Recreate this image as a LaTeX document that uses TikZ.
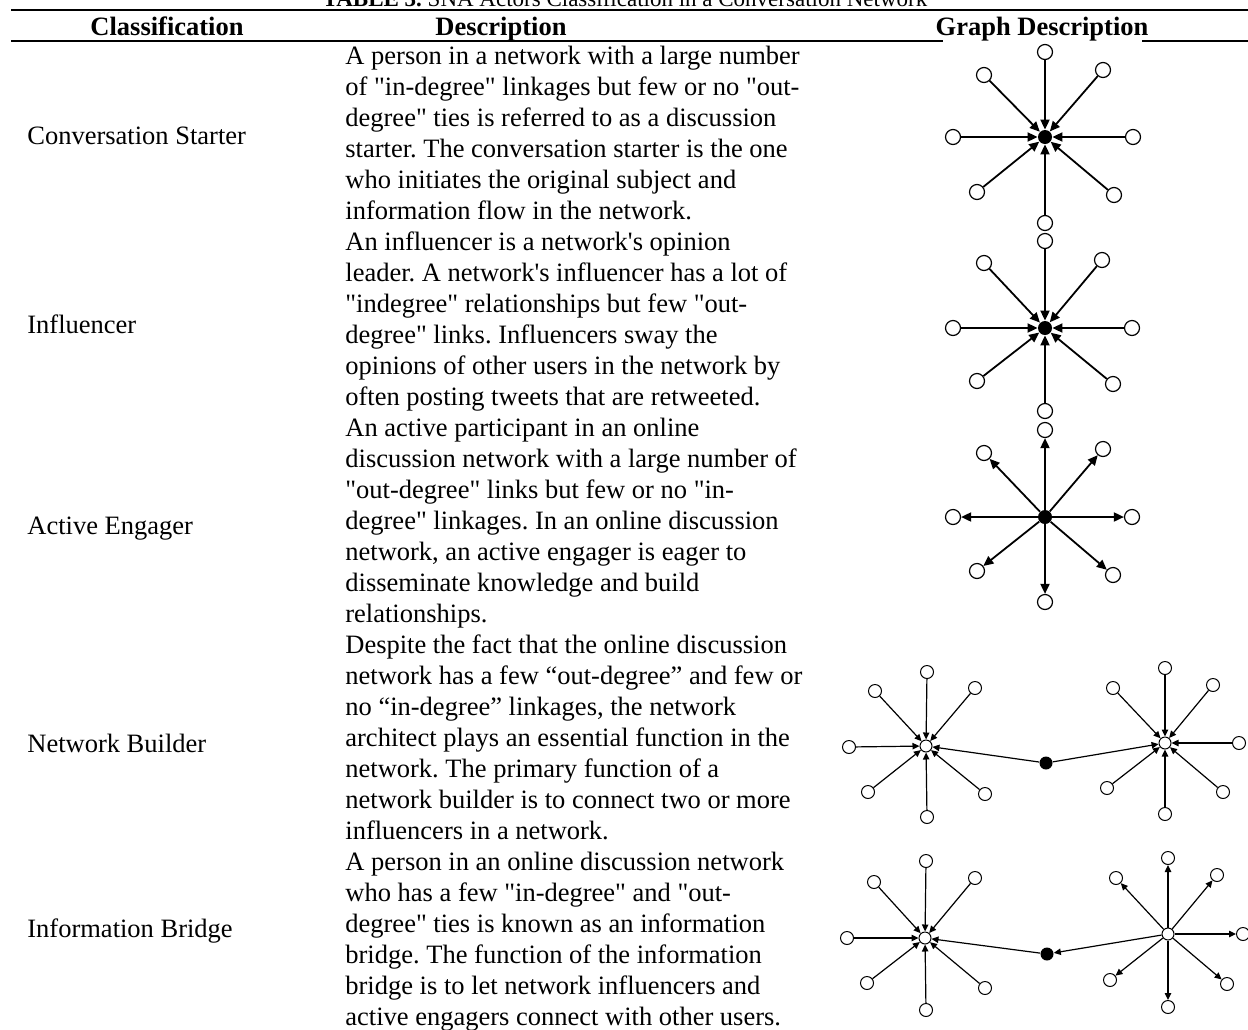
\documentclass[tikz,border=0pt]{standalone}
\usepackage{fontspec}
\setmainfont{Liberation Serif}[Ligatures=TeXOff]
\usetikzlibrary{arrows.meta}
\frenchspacing
\begin{document}
\begin{tikzpicture}[x=0.5pt,y=-0.5pt,
  txt/.style={font=\fontsize{13.25}{15.5}\selectfont, inner sep=0pt, anchor=base west},
  hdr/.style={font=\fontsize{13.25}{15.5}\selectfont\bfseries, inner sep=0pt, anchor=base},
  ttl/.style={font=\fontsize{11.5}{13}\selectfont, inner sep=0pt, anchor=base},
  hrule/.style={line width=1pt},
  onode/.style={circle, draw, fill=white, line width=0.6pt, minimum size=7.5pt, inner sep=0pt},
  cnode/.style={circle, fill=black, minimum size=7pt, inner sep=0pt},
  sonode/.style={circle, draw, fill=white, line width=0.5pt, minimum size=6.5pt, inner sep=0pt},
  shub/.style={circle, draw, fill=white, line width=0.5pt, minimum size=6pt, inner sep=0pt},
  scnode/.style={circle, fill=black, minimum size=6.5pt, inner sep=0pt},
  lnk/.style={line width=0.9pt, -{Triangle[length=5pt,width=4.5pt]}},
  slnk/.style={line width=0.6pt, -{Triangle[length=3.5pt,width=3.2pt]}}
]
\useasboundingbox (0,0) rectangle (1248,1029);
% title and rules
\node[ttl] (title) at (625,6) {\textbf{TABLE 3.} SNA Actors Classification in a Conversation Network};
\coordinate (r1a) at (11,10); \coordinate (r1b) at (1248,10);
\draw[hrule] (r1a) -- (r1b);
\node[hdr] (hc) at (167,35) {Classification};
\node[hdr] (hd) at (501,35) {Description};
\node[hdr] (hg) at (1042,35) {Graph Description};
\coordinate (r2a) at (11,41); \coordinate (r2b) at (943,41);
\coordinate (r2c) at (1142,41); \coordinate (r2d) at (1248,41);
\draw[hrule] (r2a) -- (r2b);
\draw[hrule] (r2c) -- (r2d);
% classification labels
\node[txt] (c1) at (27,144) {Conversation Starter};
\node[txt] (c2) at (27,333) {Influencer};
\node[txt] (c3) at (27,534) {Active Engager};
\node[txt] (c4) at (27,752) {Network Builder};
\node[txt] (c5) at (27,937) {Information Bridge};
% descriptions
\foreach \t [count=\i from 0] in {
 {A person in a network with a large number},
 {of "in-degree" linkages but few or no "out-},
 {degree" ties is referred to as a discussion},
 {starter. The conversation starter is the one},
 {who initiates the original subject and},
 {information flow in the network.},
 {An influencer is a network's opinion},
 {leader. A network's influencer has a lot of},
 {"indegree" relationships but few "out-},
 {degree" links. Influencers sway the},
 {opinions of other users in the network by},
 {often posting tweets that are retweeted.},
 {An active participant in an online},
 {discussion network with a large number of},
 {"out-degree" links but few or no "in-},
 {degree" linkages. In an online discussion},
 {network, an active engager is eager to},
 {disseminate knowledge and build},
 {relationships.},
 {Despite the fact that the online discussion},
 {network has a few “out-degree” and few or},
 {no “in-degree” linkages, the network},
 {architect plays an essential function in the},
 {network. The primary function of a},
 {network builder is to connect two or more},
 {influencers in a network.},
 {A person in an online discussion network},
 {who has a few "in-degree" and "out-},
 {degree" ties is known as an information},
 {bridge. The function of the information},
 {bridge is to let network influencers and},
 {active engagers connect with other users.}}
 \node[txt] (d\i) at (345,{64+31*\i}) {\t};
% graph 1: conversation starter (in-degree)
\node[cnode] (g1c) at (1045,137) {};
\foreach \n/\dx/\dy in {t/0/-85, tl/-61/-62, tr/58/-67, l/-92/0, r/88/0, bl/-68/55, br/69/58, b/0/86}{
  \node[onode] (g1\n) at ({1045+\dx},{137+\dy}) {};
  \draw[lnk] (g1\n) -- (g1c);
}
% graph 2: influencer
\node[cnode] (g2c) at (1045,328) {};
\foreach \n/\dx/\dy in {t/0/-87, tl/-61/-65, tr/57/-68, l/-92/0, r/87/0, bl/-68/53, br/68/56, b/0/83}{
  \node[onode] (g2\n) at ({1045+\dx},{328+\dy}) {};
  \draw[lnk] (g2\n) -- (g2c);
}
% graph 3: active engager (out-degree)
\node[cnode] (g3c) at (1045,517) {};
\foreach \n/\dx/\dy in {t/0/-87, tl/-61/-64, tr/58/-68, l/-92/0, r/87/0, bl/-68/54, br/68/58, b/0/85}{
  \node[onode] (g3\n) at ({1045+\dx},{517+\dy}) {};
  \draw[lnk] (g3c) -- (g3\n);
}
% graph 4: network builder
\node[shub] (g4L) at (926,746) {};
\node[shub] (g4R) at (1165,743) {};
\node[scnode] (g4M) at (1046,763) {};
\foreach \n/\x/\y in {t/927/672, tl/875/691, tr/975/688, l/849/747, bl/868/792, br/985/794, b/927/817}{
  \node[sonode] (g4L\n) at (\x,\y) {};
  \draw[slnk] (g4L\n) -- (g4L);
}
\foreach \n/\x/\y in {t/1165/668, tl/1113/688, tr/1213/685, r/1239/743, bl/1107/788, br/1223/792, b/1165/814}{
  \node[sonode] (g4R\n) at (\x,\y) {};
  \draw[slnk] (g4R\n) -- (g4R);
}
\draw[slnk] (g4M) -- (g4L);
\draw[slnk] (g4M) -- (g4R);
% graph 5: information bridge
\node[shub] (g5L) at (925,938) {};
\node[shub] (g5R) at (1168,934) {};
\node[scnode] (g5M) at (1047,954) {};
\foreach \n/\x/\y in {t/926/861, tl/874/882, tr/975/878, l/847/938, bl/867/983, br/985/988, b/926/1010}{
  \node[sonode] (g5L\n) at (\x,\y) {};
  \draw[slnk] (g5L\n) -- (g5L);
}
\foreach \n/\x/\y in {t/1168/858, tl/1116/878, tr/1217/875, r/1243/934, bl/1110/980, br/1227/984, b/1168/1007}{
  \node[sonode] (g5R\n) at (\x,\y) {};
  \draw[slnk] (g5R) -- (g5R\n);
}
\draw[slnk] (g5M) -- (g5L);
\draw[slnk] (g5R) -- (g5M);
\end{tikzpicture}
\end{document}
